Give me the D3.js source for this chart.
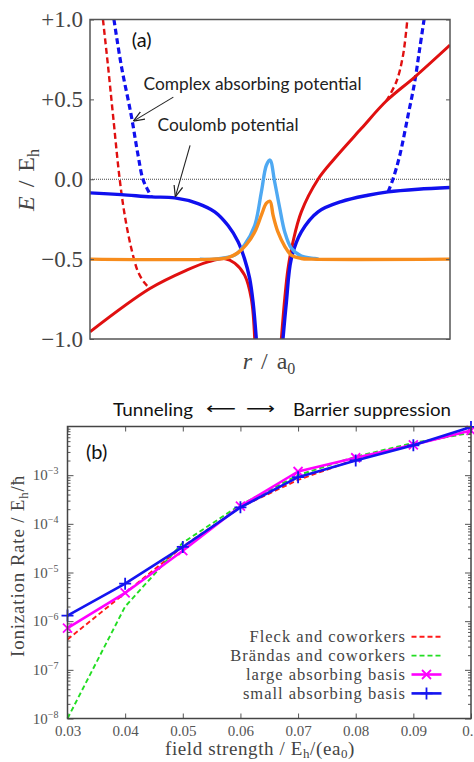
<!DOCTYPE html>
<html><head><meta charset="utf-8">
<script src="https://cdn.jsdelivr.net/npm/d3@7"></script>
<style>body{margin:0;background:#fff}svg{display:block}</style>
</head><body><svg id="c" width="474" height="762"></svg>
<script>
// ---------- Panel (a) data: [r / a0, E / Eh] ----------
const coulombLeft = [[-10,-0.085],[-8.26,-0.096],[-6.59,-0.11],[-5.29,-0.117],[-4.0,-0.152],[-3.07,-0.204],[-2.33,-0.29],[-1.78,-0.39],[-1.41,-0.5],[-1.13,-0.62],[-0.94,-0.77],[-0.76,-1.0]];
const coulombRight = [[0.72,-1.0],[0.91,-0.77],[1.18,-0.5],[1.74,-0.33],[2.67,-0.204],[3.96,-0.14],[5.44,-0.1],[6.56,-0.079],[8.22,-0.0625],[10,-0.052]];
const fieldLeft = [[-10,-0.955],[-6.67,-0.684],[-4.63,-0.569],[-3.44,-0.517],[-2.5,-0.497],[-1.96,-0.525],[-1.41,-0.6],[-1.04,-0.746],[-0.85,-1.0]];
const fieldRight = [[0.63,-1.0],[0.82,-0.746],[1.0,-0.56],[1.28,-0.39],[1.74,-0.204],[2.67,0],[3.59,0.13],[5.07,0.317],[6.46,0.49],[8.04,0.64],[10,0.84]];
const capFieldLeft = [[-9.28,1.0],[-9.0,0.71],[-8.72,0.40],[-8.35,0],[-8.07,-0.225],[-7.71,-0.43],[-7.33,-0.58],[-6.96,-0.65],[-6.67,-0.684]];
const capCoulombLeft = [[-8.67,1.0],[-8.26,0.71],[-7.71,0.40],[-7.33,0.15],[-7.06,0],[-6.78,-0.069],[-6.59,-0.11]];
const capFieldRight = [[6.46,0.49],[7.02,0.61],[7.39,0.775],[7.63,1.0]];
const capCoulombRight = [[6.56,-0.079],[6.83,0],[7.21,0.15],[7.67,0.40],[8.04,0.61],[8.32,0.82],[8.56,1.0]];
const densityCoulomb = [[-3.9,-0.5],[-3.07,-0.5],[-1.96,-0.475],[-1.41,-0.41],[-0.85,-0.29],[-0.48,-0.08],[-0.2,0.0875],[0,0.12],[0.26,-0.017],[0.54,-0.18],[0.82,-0.33],[1.18,-0.43],[1.74,-0.48],[2.48,-0.496],[2.7,-0.5]];
const densityField = [[-10,-0.5],[-3.2,-0.5],[-2.33,-0.49],[-1.78,-0.46],[-1.32,-0.41],[-0.85,-0.33],[-0.48,-0.225],[-0.2,-0.15],[0,-0.1375],[0.17,-0.225],[0.44,-0.33],[0.82,-0.42],[1.18,-0.475],[1.74,-0.496],[2.3,-0.5],[10,-0.5]];
const eTicks = [-1,-0.5,0,0.5,1];
const eTickLabels = ["\u22121.0","\u22120.5","0.0","+0.5","+1.0"];

// ---------- Panel (b) data ----------
const fieldStrength = [0.03,0.04,0.05,0.06,0.07,0.08,0.09,0.10];
const fleckRate   = [4.2e-7, 3.8e-6, 3.4e-5, 2.2e-4, 8.0e-4, 2.1e-3, 4.3e-3, 8.0e-3];
const brandasRate = [1.0e-8, 2.0e-6, 4.1e-5, 2.45e-4, 1.0e-3, 2.4e-3, 4.6e-3, 7.4e-3];
const largeRate   = [7.2e-7, 3.8e-6, 2.8e-5, 2.3e-4, 1.19e-3, 2.28e-3, 4.2e-3, 8.3e-3];
const smallRate   = [1.3e-6, 5.9e-6, 3.35e-5, 2.18e-4, 9.1e-4, 2.0e-3, 4.1e-3, 9.8e-3];
const rateTicks = [1e-8,1e-7,1e-6,1e-5,1e-4,1e-3];
const legendLabels = ["Fleck and coworkers","Br\u00e4ndas and coworkers","large absorbing basis","small absorbing basis"];

const svg = d3.select("#c");
const defs = svg.append("defs");
const RED="#e01010", BLUE="#1010ee", LBLUE="#4fa9f2", ORANGE="#f78c1c";
const SERIF="'Liberation Serif', 'Times New Roman', serif";
const SANS="Lato, 'Open Sans', sans-serif";

// ===== Panel (a) =====
const ax = d3.scaleLinear().domain([-10,10]).range([90,450]);
const ay = d3.scaleLinear().domain([-1,1]).range([339,19.5]);
defs.append("clipPath").attr("id","clipA").append("rect")
  .attr("x",ax(-10)).attr("y",ay(1)).attr("width",ax(10)-ax(-10)).attr("height",ay(-1)-ay(1));
defs.append("marker").attr("id","arr").attr("viewBox","0 0 10 10").attr("refX",10).attr("refY",5)
  .attr("markerWidth",11).attr("markerHeight",11).attr("markerUnits","userSpaceOnUse").attr("orient","auto")
  .append("path").attr("d","M0,1 L10,5 L0,9").attr("fill","none").attr("stroke","#222").attr("stroke-width",1.1);

const gA = svg.append("g");
gA.append("line").attr("x1",ax(-10)).attr("x2",ax(10)).attr("y1",ay(0)).attr("y2",ay(0))
  .attr("stroke","#444").attr("stroke-width",1).attr("stroke-dasharray","1,1");
const lineA = d3.line().x(d=>ax(d[0])).y(d=>ay(d[1])).curve(d3.curveCatmullRom.alpha(0.5));
const plotA = gA.append("g").attr("clip-path","url(#clipA)");
const seriesA = [
  {d:capFieldLeft, c:RED, w:2.4, dash:"6,3.5"},
  {d:capFieldRight, c:RED, w:2.4, dash:"6,3.5"},
  {d:capCoulombLeft, c:BLUE, w:3.2, dash:"6,3.5"},
  {d:capCoulombRight, c:BLUE, w:3.2, dash:"6,3.5"},
  {d:fieldLeft, c:RED, w:3},
  {d:fieldRight, c:RED, w:3},
  {d:coulombLeft, c:BLUE, w:3.4},
  {d:coulombRight, c:BLUE, w:3.4},
  {d:densityCoulomb, c:LBLUE, w:3.4},
  {d:densityField, c:ORANGE, w:3.4}
];
seriesA.forEach(s=>{
  plotA.append("path").attr("d",lineA(s.d)).attr("fill","none").attr("stroke",s.c)
    .attr("stroke-width",s.w).attr("stroke-dasharray",s.dash||null).attr("stroke-linejoin","round");
});
gA.append("rect").attr("x",ax(-10)).attr("y",ay(1)).attr("width",ax(10)-ax(-10)).attr("height",ay(-1)-ay(1))
  .attr("fill","none").attr("stroke","#555").attr("stroke-width",1.5);
const axA = gA.append("g").attr("transform",`translate(${ax(-10)},0)`)
  .call(d3.axisLeft(ay).tickValues(eTicks).tickFormat((d,i)=>eTickLabels[i]).tickSizeInner(-4).tickSizeOuter(0).tickPadding(7));
axA.select(".domain").remove();
axA.selectAll("text").attr("font-family",SERIF).attr("font-size",23).attr("fill","#444");
axA.selectAll("line").attr("stroke","#555");
const axA2 = gA.append("g").attr("transform",`translate(${ax(10)},0)`)
  .call(d3.axisRight(ay).tickValues(eTicks).tickFormat("").tickSizeInner(-4).tickSizeOuter(0));
axA2.select(".domain").remove();
axA2.selectAll("line").attr("stroke","#555");
// axis titles
const yta = gA.append("text").attr("transform","translate(34,180) rotate(-90)").attr("text-anchor","middle")
  .attr("font-family",SERIF).attr("font-size",24).attr("fill","#444").attr("word-spacing",3);
yta.append("tspan").attr("font-style","italic").text("E");
yta.append("tspan").text(" / E");
yta.append("tspan").attr("font-size",16).attr("dy",5).text("h");
const xta = gA.append("text").attr("x",269).attr("y",369).attr("text-anchor","middle")
  .attr("font-family",SERIF).attr("font-size",24).attr("fill","#444").attr("word-spacing",3);
xta.append("tspan").attr("font-style","italic").text("r");
xta.append("tspan").text(" / a");
xta.append("tspan").attr("font-size",16).attr("dy",5).text("0");
// annotations
gA.append("text").attr("x",141.7).attr("y",47).attr("text-anchor","middle").attr("font-family",SANS)
  .attr("font-size",20).attr("fill","#111").text("(a)");
gA.append("text").attr("x",143.5).attr("y",89.5).attr("font-family",SANS).attr("font-size",17)
  .attr("fill","#222").attr("textLength",218).attr("lengthAdjust","spacingAndGlyphs").text("Complex absorbing potential");
gA.append("text").attr("x",157.5).attr("y",130.5).attr("font-family",SANS).attr("font-size",17)
  .attr("fill","#222").attr("textLength",141).attr("lengthAdjust","spacingAndGlyphs").text("Coulomb potential");
gA.append("line").attr("x1",ax(-5.37)).attr("y1",ay(0.514)).attr("x2",ax(-7.59)).attr("y2",ay(0.364))
  .attr("stroke","#222").attr("stroke-width",1.1).attr("marker-end","url(#arr)");
gA.append("line").attr("x1",ax(-4.44)).attr("y1",ay(0.2125)).attr("x2",ax(-5.26)).attr("y2",ay(-0.11))
  .attr("stroke","#222").attr("stroke-width",1.1).attr("marker-end","url(#arr)");

// ===== Panel (b) =====
const bx = d3.scaleLinear().domain([0.03,0.1]).range([67.5,471]);
const by = d3.scaleLog().domain([1e-8,1e-2]).range([718.5,426.5]);
const gB = svg.append("g");
// header
gB.append("text").attr("x",113).attr("y",415.5).attr("font-family",SANS).attr("font-size",18).attr("fill","#111")
  .attr("textLength",80).attr("lengthAdjust","spacingAndGlyphs").text("Tunneling");
gB.append("text").attr("x",206).attr("y",414).attr("font-family","'DejaVu Sans', sans-serif").attr("font-size",16).attr("fill","#111")
  .attr("textLength",30).attr("lengthAdjust","spacingAndGlyphs").text("\u27F5");
gB.append("text").attr("x",246).attr("y",414).attr("font-family","'DejaVu Sans', sans-serif").attr("font-size",16).attr("fill","#111")
  .attr("textLength",29).attr("lengthAdjust","spacingAndGlyphs").text("\u27F6");
gB.append("text").attr("x",293).attr("y",415.5).attr("font-family",SANS).attr("font-size",18).attr("fill","#111")
  .attr("textLength",158).attr("lengthAdjust","spacingAndGlyphs").text("Barrier suppression");

// ticks
const tickCol="#555";
const axB = gB.append("g").attr("transform",`translate(0,${by(1e-8)})`)
  .call(d3.axisBottom(bx).tickValues(fieldStrength).tickFormat(d3.format(".2~f")).tickSizeInner(-5).tickSizeOuter(0).tickPadding(7));
axB.select(".domain").remove();
axB.selectAll("text").attr("font-family",SERIF).attr("font-size",15).attr("fill","#555");
const axBt = gB.append("g").attr("transform",`translate(0,${by(1e-2)})`)
  .call(d3.axisTop(bx).tickValues(fieldStrength).tickFormat("").tickSizeInner(-5).tickSizeOuter(0));
axBt.select(".domain").remove();
const minor = by.ticks().filter(v=>Math.abs(Math.log10(v)-Math.round(Math.log10(v)))>1e-6);
const ayL = gB.append("g").attr("transform",`translate(${bx(0.03)},0)`)
  .call(d3.axisLeft(by).tickValues(rateTicks).tickSizeInner(-6).tickSizeOuter(0).tickPadding(9));
ayL.select(".domain").remove();
ayL.selectAll(".tick text").each(function(d){
  const t=d3.select(this).text("").attr("font-family",SERIF).attr("font-size",15).attr("fill","#555");
  t.append("tspan").text("10");
  t.append("tspan").attr("dy",-6).attr("font-size",10).text("\u2212"+Math.round(-Math.log10(d)));
});
const ayR = gB.append("g").attr("transform",`translate(${bx(0.1)},0)`)
  .call(d3.axisRight(by).tickValues(rateTicks).tickFormat("").tickSizeInner(-6).tickSizeOuter(0));
ayR.select(".domain").remove();
gB.append("g").attr("transform",`translate(${bx(0.03)},0)`).call(d3.axisLeft(by).tickValues(minor).tickFormat("").tickSizeInner(-3).tickSizeOuter(0)).select(".domain").remove();
gB.append("g").attr("transform",`translate(${bx(0.1)},0)`).call(d3.axisRight(by).tickValues(minor).tickFormat("").tickSizeInner(-3).tickSizeOuter(0)).select(".domain").remove();
gB.selectAll(".tick line").attr("stroke",tickCol);

// series
const lineB = d3.line().x(d=>bx(d[0])).y(d=>by(d[1]));
const zip = r => fieldStrength.map((f,i)=>[f,r[i]]);
const GREEN="#22dd22", MAG="#ff00ff", BLUEB="#1414f0", REDB="#ff1a1a";
const seriesB = [
  {r:fleckRate, c:REDB, w:1.9, dash:"5,3"},
  {r:brandasRate, c:GREEN, w:1.9, dash:"5,3"},
  {r:largeRate, c:MAG, w:2.6, mark:"x"},
  {r:smallRate, c:BLUEB, w:2.6, mark:"+"}
];
const markPath = m => m==="x" ? "M-4.5,-4.5L4.5,4.5M-4.5,4.5L4.5,-4.5" : "M-6,0L6,0M0,-6L0,6";
seriesB.forEach(s=>{
  const pts = zip(s.r);
  gB.append("path").attr("d",lineB(pts)).attr("fill","none").attr("stroke",s.c).attr("stroke-width",s.w)
    .attr("stroke-dasharray",s.dash||null).attr("stroke-linejoin","round");
  if(s.mark){
    gB.selectAll(null).data(pts).enter().append("path")
      .attr("transform",d=>`translate(${bx(d[0])},${by(d[1])})`).attr("d",markPath(s.mark))
      .attr("fill","none").attr("stroke",s.c).attr("stroke-width",1.8);
  }
});
gB.append("rect").attr("x",bx(0.03)).attr("y",by(1e-2)).attr("width",bx(0.1)-bx(0.03)).attr("height",by(1e-8)-by(1e-2))
  .attr("fill","none").attr("stroke","#444").attr("stroke-width",1.5);

// legend
const legY0 = 636.7, legDY = 18.9;
seriesB.forEach((s,i)=>{
  const y = legY0 + i*legDY;
  gB.append("text").attr("x",406).attr("y",y+5.5).attr("text-anchor","end").attr("font-family",SERIF)
    .attr("font-size",16.5).attr("letter-spacing",1).attr("fill","#444").text(legendLabels[i]);
  gB.append("line").attr("x1",411.5).attr("x2",441.5).attr("y1",y).attr("y2",y).attr("stroke",s.c)
    .attr("stroke-width",s.w).attr("stroke-dasharray",s.dash||null);
  if(s.mark) gB.append("path").attr("transform",`translate(426.5,${y})`).attr("d",markPath(s.mark))
    .attr("fill","none").attr("stroke",s.c).attr("stroke-width",1.8);
});

// titles
gB.append("text").attr("x",96.7).attr("y",459).attr("text-anchor","middle").attr("font-family",SANS)
  .attr("font-size",20).attr("fill","#111").text("(b)");
const ytb = gB.append("text").attr("transform","translate(24,566) rotate(-90)").attr("text-anchor","middle")
  .attr("font-family",SERIF).attr("font-size",19).attr("fill","#444").attr("letter-spacing",0.8);
ytb.append("tspan").text("Ionization Rate / E");
ytb.append("tspan").attr("font-size",13).attr("dy",4).text("h");
ytb.append("tspan").attr("dy",-4).text("/\u0127");
const xtb = gB.append("text").attr("x",260).attr("y",755).attr("text-anchor","middle")
  .attr("font-family",SERIF).attr("font-size",19).attr("fill","#444").attr("letter-spacing",0.6);
xtb.append("tspan").text("field strength / E");
xtb.append("tspan").attr("font-size",13).attr("dy",3).text("h");
xtb.append("tspan").attr("dy",-3).text("/(ea");
xtb.append("tspan").attr("font-size",13).attr("dy",3).text("0");
xtb.append("tspan").attr("dy",-3).text(")");
</script></body></html>
